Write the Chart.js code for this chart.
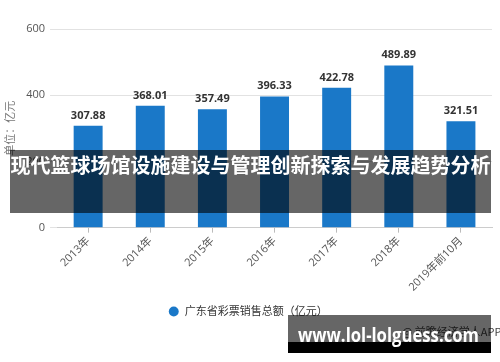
<!DOCTYPE html>
<html>
<head>
<meta charset="utf-8">
<script src="https://cdn.jsdelivr.net/npm/chart.js@4"></script>
<style>
  html, body { margin: 0; padding: 0; background: #fff; }
  #wrap { position: relative; width: 500px; height: 362px; overflow: hidden; }
  #c { position: absolute; left: 0; top: 0; }
  .band { position: absolute; background: rgba(0,0,0,0.6); }
  #titleBand { left: 10px; top: 150px; width: 481px; height: 63px; }
  #titleText { position: absolute; left: 10px; top: 150px; width: 481px; height: 63px; line-height: 63px;
    text-align: center; color: #fff; font: bold 20px 'Noto Sans CJK SC', sans-serif; white-space: nowrap; }
  #src { position: absolute; left: 402px; top: 323px; font: 11px 'Noto Sans CJK SC', sans-serif; color: #444; white-space: nowrap; }
  #urlBand { left: 288px; top: 315px; width: 203px; height: 27px; }
  #urlBlack { position: absolute; left: 288px; top: 342px; width: 203px; height: 11px; background: #000; }
  #urlText { position: absolute; left: 298px; top: 322px; color: #fff; font: bold 19px 'Open Sans', sans-serif; white-space: nowrap; transform-origin: 0 0; }
</style>
</head>
<body>
<div id="wrap">
  <canvas id="c" width="500" height="362"></canvas>
  <div id="src">@ 前瞻经济学人APP</div>
  <div class="band" id="titleBand"></div>
  <div id="titleText">现代篮球场馆设施建设与管理创新探索与发展趋势分析</div>
  <div class="band" id="urlBand"></div>
  <div id="urlBlack"></div>
  <div id="urlText">www.lol-lolguess.com</div>
</div>
<script>
const categories = ['2013年', '2014年', '2015年', '2016年', '2017年', '2018年', '2019年前10月'];
const salesValues = [307.88, 368.01, 357.49, 396.33, 422.78, 489.89, 321.51];
const seriesName = '广东省彩票销售总额（亿元）';
const yAxisTitle = '单位：亿元';
const yTicks = [0, 200, 400, 600];

const FONT = "'Open Sans', 'Noto Sans CJK SC', sans-serif";
const BLUE = '#1a78c8';

const valueLabels = {
  id: 'valueLabels',
  afterDatasetsDraw(chart) {
    const ctx = chart.ctx;
    const meta = chart.getDatasetMeta(0);
    ctx.save();
    ctx.font = 'bold 11px ' + FONT;
    ctx.fillStyle = '#333';
    ctx.textAlign = 'center';
    ctx.textBaseline = 'alphabetic';
    meta.data.forEach((bar, i) => {
      ctx.fillText(salesValues[i].toFixed(2), bar.x, bar.y - 7);
    });
    ctx.restore();
  }
};

new Chart(document.getElementById('c'), {
  type: 'bar',
  data: {
    labels: categories,
    datasets: [{
      label: seriesName,
      data: salesValues,
      backgroundColor: BLUE,
      borderWidth: 0,
      barPercentage: 0.466,
      categoryPercentage: 1.0
    }]
  },
  options: {
    responsive: false,
    animation: false,
    devicePixelRatio: 1,
    layout: { padding: { left: 4, right: 8, top: 29, bottom: 35 } },
    plugins: {
      legend: {
        position: 'bottom',
        labels: {
          usePointStyle: true,
          pointStyle: 'circle',
          boxWidth: 16,
          boxHeight: 7,
          color: '#333',
          font: { family: FONT, size: 11 },
          padding: 10
        }
      },
      tooltip: { enabled: false }
    },
    scales: {
      x: {
        grid: { offset: false, drawOnChartArea: false, drawTicks: true, tickLength: 5, color: '#bbb' },
        border: { display: true, color: '#ccc' },
        ticks: { color: '#555', font: { family: FONT, size: 11 }, maxRotation: 45, minRotation: 45, padding: 2 }
      },
      y: {
        min: 0,
        max: 600,
        afterBuildTicks(axis) { axis.ticks = yTicks.map(v => ({ value: v })); },
        grid: { color: '#e2e2e2', tickLength: 7, drawTicks: true },
        border: { display: false },
        ticks: { color: '#555', font: { family: FONT, size: 11 }, padding: 5 },
        title: { display: true, text: yAxisTitle, color: '#777', font: { family: FONT, size: 11 }, padding: { top: 0, bottom: 4 } }
      }
    }
  },
  plugins: [valueLabels]
});

(function () {
  const el = document.getElementById('urlText');
  const w = el.getBoundingClientRect().width;
  el.style.transform = 'scaleX(' + (181 / w) + ')';
})();
</script>
</body>
</html>
